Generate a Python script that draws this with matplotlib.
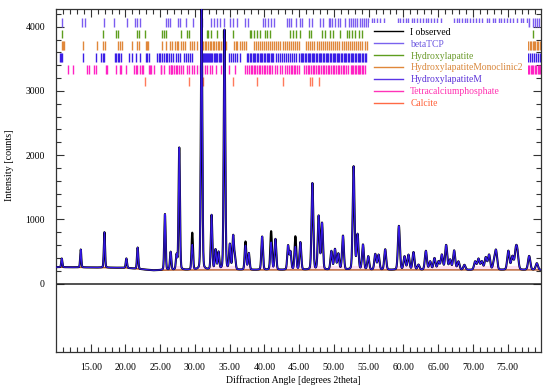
import numpy as np
import matplotlib
matplotlib.use('Agg')
import matplotlib.pyplot as plt
from matplotlib.lines import Line2D
from matplotlib.ticker import FixedLocator

plt.rcParams['font.family'] = ['Liberation Serif', 'DejaVu Serif']

# ---------------- data ----------------
# background (counts) vs 2theta
bg_x = [10, 15, 20, 22, 24, 26, 30, 40, 50, 60, 70, 80]
bg_y = [255, 250, 245, 225, 205, 210, 212, 212, 212, 212, 212, 212]

# peaks: position, observed height, calculated height (total counts)
peak_pos = [10.83, 13.56, 16.97, 20.13, 21.75, 25.68, 26.5, 27.35, 27.74, 29.61,
            30.95, 32.39, 32.96, 33.39, 34.25, 35.02, 35.5, 35.75, 37.27, 37.75,
            39.67, 40.96, 41.58, 43.4, 43.74, 44.45, 45.17, 46.9, 47.8, 48.29,
            49.63, 50.15, 50.63, 51.3, 52.83, 53.4, 54.18, 54.94, 55.95, 56.42,
            57.38, 59.35, 60.16, 60.73, 61.45, 62.17, 63.23, 63.85, 64.47, 65.05,
            65.53, 66.15, 66.72, 67.3, 67.92, 68.78, 70.32, 70.8, 71.28, 71.85,
            72.33, 73.05, 73.33, 75.1, 75.68, 76.17, 76.4, 78.1, 79.2]
peak_obs = [390, 530, 800, 390, 560, 1080, 490, 440, 2115, 785,
            4300, 1060, 520, 480, 3950, 600, 730, 400, 650, 470,
            730, 810, 690, 585, 490, 730, 640, 1560, 1045, 935,
            500, 530, 460, 740, 1820, 755, 600, 420, 455, 444,
            530, 895, 418, 444, 486, 290, 506, 340, 392, 340,
            444, 595, 366, 511, 340, 288, 340, 381, 340, 402,
            444, 340, 495, 506, 418, 480, 444, 428, 315]
peak_calc = [390, 530, 800, 390, 560, 1080, 490, 440, 2115, 600,
             4300, 1060, 520, 480, 3950, 600, 730, 400, 590, 470,
             730, 640, 690, 585, 490, 570, 640, 1560, 1045, 935,
             500, 530, 460, 740, 1820, 755, 600, 420, 455, 444,
             530, 895, 418, 444, 486, 290, 506, 340, 392, 340,
             444, 595, 366, 511, 340, 288, 340, 381, 340, 402,
             444, 340, 495, 506, 418, 480, 444, 428, 315]

# reflection markers (2theta) for each phase
betaTCP_refl = [10.83, 13.7, 14.14, 16.97, 18.35, 20.17, 21.32, 21.7, 22.1, 25.78,
                26.05, 26.4, 27.5, 27.9, 28.65, 29.65, 30.95, 32.24, 32.72, 33.2,
                33.58, 34.25, 35.11, 35.5, 35.98, 37.13, 37.61, 39.81, 40.1, 40.48,
                40.96, 41.44, 43.26, 43.54, 43.88, 44.55, 45.17, 45.41, 46.37, 46.85,
                48.05, 48.43, 49.24, 49.48, 49.72, 50.1, 50.54, 50.92, 51.64, 52.12,
                52.45, 52.74, 53.03, 53.31, 53.79, 54.08, 54.37, 54.65, 54.94, 55.52,
                55.8, 56.19, 56.67, 57.15, 59.16, 59.54, 59.92, 60.31, 60.69, 61.17,
                61.55, 61.94, 62.41, 62.8, 63.18, 63.56, 64.04, 64.42, 64.9, 65.38,
                67.3, 67.68, 68.07, 68.45, 68.83, 69.21, 69.6, 70.08, 70.46, 70.84,
                71.32, 71.99, 72.37, 72.85, 73.24, 73.72, 74.1, 74.48, 74.87, 75.35,
                75.82, 76.3, 76.88, 77.26, 77.74, 78.12, 78.6, 78.98, 79.27, 79.56]
hydroxylapatite_refl = [10.83, 16.82, 18.69, 18.92, 21.71, 21.94, 22.8, 25.3, 25.55, 25.78,
                        27.93, 28.79, 29.18, 31.67, 31.9, 32.24, 33.2, 34.06, 35.5, 37.89,
                        38.13, 38.47, 38.95, 39.43, 40.14, 40.38, 40.86, 43.73, 44.1, 44.6,
                        45.17, 46.37, 46.7, 48.29, 48.76, 49.48, 49.87, 50.92, 51.88, 52.12,
                        52.6, 53.1, 53.6, 54.1, 78.6]
ha_monoclinic2_refl = [10.8, 10.95, 11.1, 13.95, 15.9, 16.8, 17.1, 18.9, 19.2, 19.5,
                       20.9, 21.7, 22.0, 22.9, 23.1, 23.3, 25.3, 25.8, 26.4, 26.7,
                       27.1, 27.4, 27.6, 28.0, 28.3, 28.5, 29.3, 29.6, 29.9, 30.3,
                       30.8, 31.0, 31.2, 31.4, 31.6, 31.9, 32.1, 32.3, 32.6, 32.8,
                       33.0, 33.3, 33.5, 33.7, 34.0, 34.2, 34.4, 35.6, 35.9, 36.1,
                       36.5, 36.8, 37.1, 37.4, 38.5, 38.8, 39.0, 39.3, 39.6, 39.9,
                       40.2, 40.5, 40.8, 41.1, 41.4, 41.7, 42.0, 42.3, 42.6, 42.9,
                       43.2, 43.5, 43.8, 44.1, 44.4, 44.7, 45.0, 46.0, 46.3, 46.6,
                       46.9, 47.2, 47.5, 47.8, 48.1, 48.4, 48.7, 49.0, 49.3, 49.6,
                       49.9, 50.2, 50.5, 50.8, 51.1, 51.4, 51.7, 52.0, 52.3, 52.6,
                       52.9, 53.2, 53.5, 53.8, 54.1, 54.4, 54.7, 77.8, 78.0, 78.2,
                       78.4, 78.6, 78.8, 79.0, 79.2, 79.4, 79.6]
hydroxylapatiteM_refl = [10.6, 10.75, 10.9, 13.9, 15.7, 16.45, 16.7, 16.9, 18.5, 18.7,
                         18.9, 19.1, 19.3, 20.5, 21.0, 21.5, 22.1, 22.9, 23.15, 23.4,
                         24.6, 24.8, 25.0, 25.3, 25.6, 25.8, 26.0, 26.3, 26.6, 26.9,
                         27.2, 27.5, 27.9, 28.4, 28.7, 29.0, 29.3, 29.6, 30.8, 30.95,
                         31.1, 31.25, 31.4, 31.55, 31.7, 31.85, 32.0, 32.15, 32.3, 32.5,
                         32.7, 32.85, 33.0, 33.2, 33.4, 33.6, 33.8, 34.0, 34.2, 34.9,
                         35.2, 35.5, 35.8, 36.1, 36.5, 37.5, 37.7, 37.9, 38.1, 38.3,
                         38.5, 38.7, 38.9, 39.1, 39.3, 39.5, 39.7, 39.9, 40.1, 40.3,
                         40.5, 40.7, 40.9, 41.1, 41.3, 41.6, 41.9, 42.2, 42.5, 42.8,
                         43.1, 43.4, 43.7, 44.0, 44.3, 44.6, 44.9, 45.2, 45.4, 45.6,
                         45.8, 46.0, 46.2, 46.4, 46.6, 46.8, 47.0, 47.2, 47.4, 47.6,
                         47.8, 48.0, 48.2, 48.4, 48.6, 48.8, 49.0, 49.2, 49.4, 49.6,
                         49.8, 50.0, 50.2, 50.4, 50.6, 50.8, 51.0, 51.2, 51.4, 51.6,
                         51.8, 52.0, 52.2, 52.4, 52.6, 52.8, 53.0, 53.2, 53.4, 53.6,
                         53.8, 54.0, 54.2, 54.4, 54.6, 77.9, 78.2, 78.5, 78.8, 79.1,
                         79.4, 79.7]
tetracalcium_refl = [11.79, 12.51, 14.52, 14.76, 15.48, 15.81, 17.16, 17.4, 18.59, 19.17,
                     19.31, 20.03, 21.23, 21.47, 21.71, 22.09, 22.42, 22.57, 23.38, 23.55,
                     23.72, 24.1, 25.06, 25.15, 25.54, 26.26, 26.49, 26.59, 26.73, 26.97,
                     27.21, 27.36, 27.69, 27.93, 28.31, 28.89, 29.13, 29.61, 29.84, 30.33,
                     30.71, 31.04, 31.38, 31.76, 32.15, 32.48, 32.96, 33.68, 34.16, 34.88,
                     35.83, 37.27, 37.5, 37.75, 38.0, 38.23, 38.45, 38.71, 38.95, 39.19,
                     39.43, 39.67, 39.9, 40.14, 40.38, 40.62, 40.86, 41.1, 41.58, 41.8,
                     42.3, 42.5, 43.02, 43.25, 43.5, 43.75, 43.98, 44.2, 44.46, 44.7,
                     44.93, 45.75, 46.0, 46.23, 46.45, 46.7, 46.95, 47.18, 47.42, 47.66,
                     47.9, 48.14, 48.38, 48.62, 48.86, 49.1, 49.34, 49.58, 49.82, 50.06,
                     50.3, 50.54, 50.78, 51.02, 51.26, 51.5, 51.74, 51.97, 52.4, 52.6,
                     52.8, 53.0, 53.2, 53.4, 53.6, 53.8, 54.0, 54.2, 54.45, 77.7,
                     77.9, 78.1, 78.3, 78.5, 78.7, 78.9, 79.1, 79.3, 79.5, 79.7]
calcite_refl = [22.8, 29.13, 31.14, 35.5, 38.95, 42.69, 46.5, 46.85, 47.9]

legend_labels = ['I observed', 'betaTCP', 'Hydroxylapatite', 'HydroxylapatiteMonoclinic2',
                 'HydroxylapatiteM', 'Tetracalciumphosphate', 'Calcite']
x_tick_values = [15, 20, 25, 30, 35, 40, 45, 50, 55, 60, 65, 70, 75]
x_tick_labels = ['15.00', '20.00', '25.00', '30.00', '35.00', '40.00', '45.00',
                 '50.00', '55.00', '60.00', '65.00', '70.00', '75.00']
y_tick_values = [0, 1000, 2000, 3000, 4000]
y_tick_labels = ['0', '1000', '2000', '3000', '4000']

# ---------------- styles ----------------
phase_colors = ['#7b5cf0', '#5e9e1e', '#e0873a', '#3a1ee6', '#ff22c4', '#ff7a5a']
legend_colors = ['#000000', '#7a62ee', '#5e9e1e', '#e0873a', '#5a34e6', '#ff33b8', '#ff6a45']
text_colors = ['#000000', '#6a55e0', '#6a9a2a', '#d9863a', '#5a30d8', '#ff30b0', '#ff6038']
row_spans = [(4003, 4143), (3832, 3956), (3645, 3785), (3458, 3598), (3271, 3411), (3084, 3224)]

# ---------------- build profiles ----------------
x = np.linspace(10, 80, 6000)
bg = np.interp(x, bg_x, bg_y)


def profile(heights):
    y = bg.copy()
    for p, h in zip(peak_pos, heights):
        w = 0.18 + 0.003 * (p - 10)
        hb = h - np.interp(p, bg_x, bg_y)
        d = (x - p) / w
        y += hb * (0.85 * np.exp(-4 * np.log(2) * d ** 2) + 0.15 / (1 + 4 * d ** 2))
    return y


obs = profile(peak_obs)
calc = profile(peak_calc)

# ---------------- figure ----------------
fig = plt.figure(figsize=(5.5, 3.91), dpi=100)
ax = fig.add_axes([56 / 550, (391 - 351.7) / 391, (541 - 56) / 550, (351.7 - 9) / 391])

ax.fill_between(x, bg, np.minimum(calc, bg + 70), color='#fde0f3', lw=0, zorder=1)
ax.plot(x, bg, color='#b8602a', lw=1.0, zorder=2)
ax.plot(x, obs, color='black', lw=1.5, zorder=3)
ax.plot(x, calc, color='#3418e6', lw=0.9, zorder=4)
ax.axhline(0, color='#222222', lw=1.1, zorder=2)

refl_lists = [betaTCP_refl, hydroxylapatite_refl, ha_monoclinic2_refl,
              hydroxylapatiteM_refl, tetracalcium_refl, calcite_refl]
for refl, (y0, y1), c in zip(refl_lists, row_spans, phase_colors):
    ax.vlines(refl, y0, y1, colors=c, lw=1.0, zorder=2)

ax.set_xlim(10, 79.8)
ax.set_ylim(-1062, 4276)

ax.set_xticks(x_tick_values)
ax.set_xticklabels(x_tick_labels)
ax.xaxis.set_minor_locator(FixedLocator(list(range(11, 80))))
ax.set_yticks(y_tick_values)
ax.set_yticklabels(y_tick_labels)
ax.yaxis.set_minor_locator(FixedLocator(list(range(0, 4201, 200))))

ax.tick_params(which='both', direction='in', top=True, right=True, labelsize=7,
               width=0.8, color='#333333')
ax.tick_params(which='major', length=6)
ax.tick_params(which='minor', length=3.5)
ax.tick_params(axis='x', pad=8)
ax.tick_params(axis='y', pad=8)
for s in ax.spines.values():
    s.set_linewidth(0.9)
    s.set_color('#333333')

handles = [Line2D([0], [0], color=c, lw=1.0) for c in legend_colors]
leg = ax.legend(handles, legend_labels, loc='upper left',
                bbox_to_anchor=((369 - 56) / 485, 1 - (23 - 9) / 342.7),
                borderaxespad=0, frameon=True, fancybox=False, framealpha=1,
                facecolor='white', edgecolor='none', fontsize=6.9,
                handlelength=3.0, handletextpad=0.8, labelspacing=0.3,
                borderpad=0.5)
for t, c in zip(leg.get_texts(), text_colors):
    t.set_color(c)

fig.text(10 / 550, 1 - 165 / 391, 'Intensity [counts]', rotation=90,
         ha='center', va='center', fontsize=7.3)
fig.text(293 / 550, 1 - 380 / 391, 'Diffraction Angle [degrees 2theta]',
         ha='center', va='center', fontsize=7)

fig.savefig('out.png', dpi=100)
